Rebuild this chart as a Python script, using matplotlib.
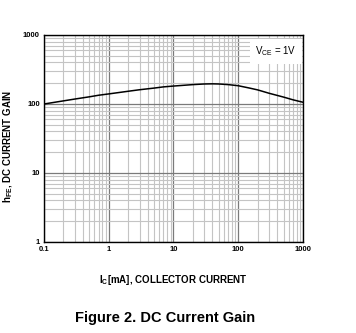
import matplotlib
matplotlib.use("Agg")
import matplotlib.pyplot as plt
from matplotlib.ticker import LogLocator, NullFormatter, FixedLocator, FixedFormatter

plt.rcParams['font.family'] = ['Liberation Sans', 'DejaVu Sans']
plt.rcParams['mathtext.fontset'] = 'custom'
plt.rcParams['mathtext.rm'] = 'Liberation Sans'

# Collector current (mA) vs DC current gain
ic_ma = [0.1, 0.2, 0.3, 0.5, 0.7, 1, 2, 3, 5, 7, 10, 20, 30, 40, 50, 70,
         100, 150, 200, 300, 500, 700, 1000]
hfe = [100, 111, 118, 127, 134, 140, 153, 161, 170, 177, 182, 191, 195, 196,
       195, 191, 184, 170, 160, 143, 126, 115, 106]

x_ticks = [0.1, 1, 10, 100, 1000]
x_labels = ["0.1", "1", "10", "100", "1000"]
y_ticks = [1, 10, 100, 1000]
y_labels = ["1", "10", "100", "1000"]

fig = plt.figure(figsize=(3.56, 3.33), dpi=100)
ax = fig.add_axes([0.1236, 0.2733, 0.7275, 0.6216])

ax.set_xscale("log")
ax.set_yscale("log")
ax.set_xlim(0.1, 1000)
ax.set_ylim(1, 1000)

# grid: darker decades, light minor lines
ax.xaxis.set_minor_locator(LogLocator(base=10, subs=range(2, 10)))
ax.yaxis.set_minor_locator(LogLocator(base=10, subs=range(2, 10)))
ax.xaxis.set_minor_formatter(NullFormatter())
ax.yaxis.set_minor_formatter(NullFormatter())
ax.grid(True, which="major", color="#7a7a7a", lw=0.9)
ax.grid(True, which="minor", color="#c4c4c4", lw=0.8)
ax.set_axisbelow(True)

ax.xaxis.set_major_locator(FixedLocator(x_ticks))
ax.xaxis.set_major_formatter(FixedFormatter(x_labels))
ax.yaxis.set_major_locator(FixedLocator(y_ticks))
ax.yaxis.set_major_formatter(FixedFormatter(y_labels))
ax.tick_params(which="both", length=0, labelsize=5.5, pad=3)
for lab in ax.get_xticklabels() + ax.get_yticklabels():
    lab.set_fontweight("bold")

for s in ax.spines.values():
    s.set_color("black")
    s.set_linewidth(1.0)

ax.plot(ic_ma, hfe, color="black", lw=1.1)

ax.text(0.975, 0.955, "V$_{\\mathregular{CE}}$ = 1V", transform=ax.transAxes,
        ha="right", va="top", fontsize=7,
        bbox=dict(facecolor="white", edgecolor="none", pad=4))

ax.set_xlabel("I$_{\\mathregular{C}}$[mA], COLLECTOR CURRENT", fontsize=7,
              fontweight="bold", labelpad=14)
ax.set_ylabel("h$_{\\mathregular{FE}}$, DC CURRENT GAIN", fontsize=7,
              fontweight="bold")
ax.yaxis.set_label_coords(-0.112, 0.46)

fig.text(0.465, 0.045, "Figure 2. DC Current Gain", ha="center", va="center",
         fontsize=10.5, fontweight="bold")

fig.savefig("out.png", dpi=100)
